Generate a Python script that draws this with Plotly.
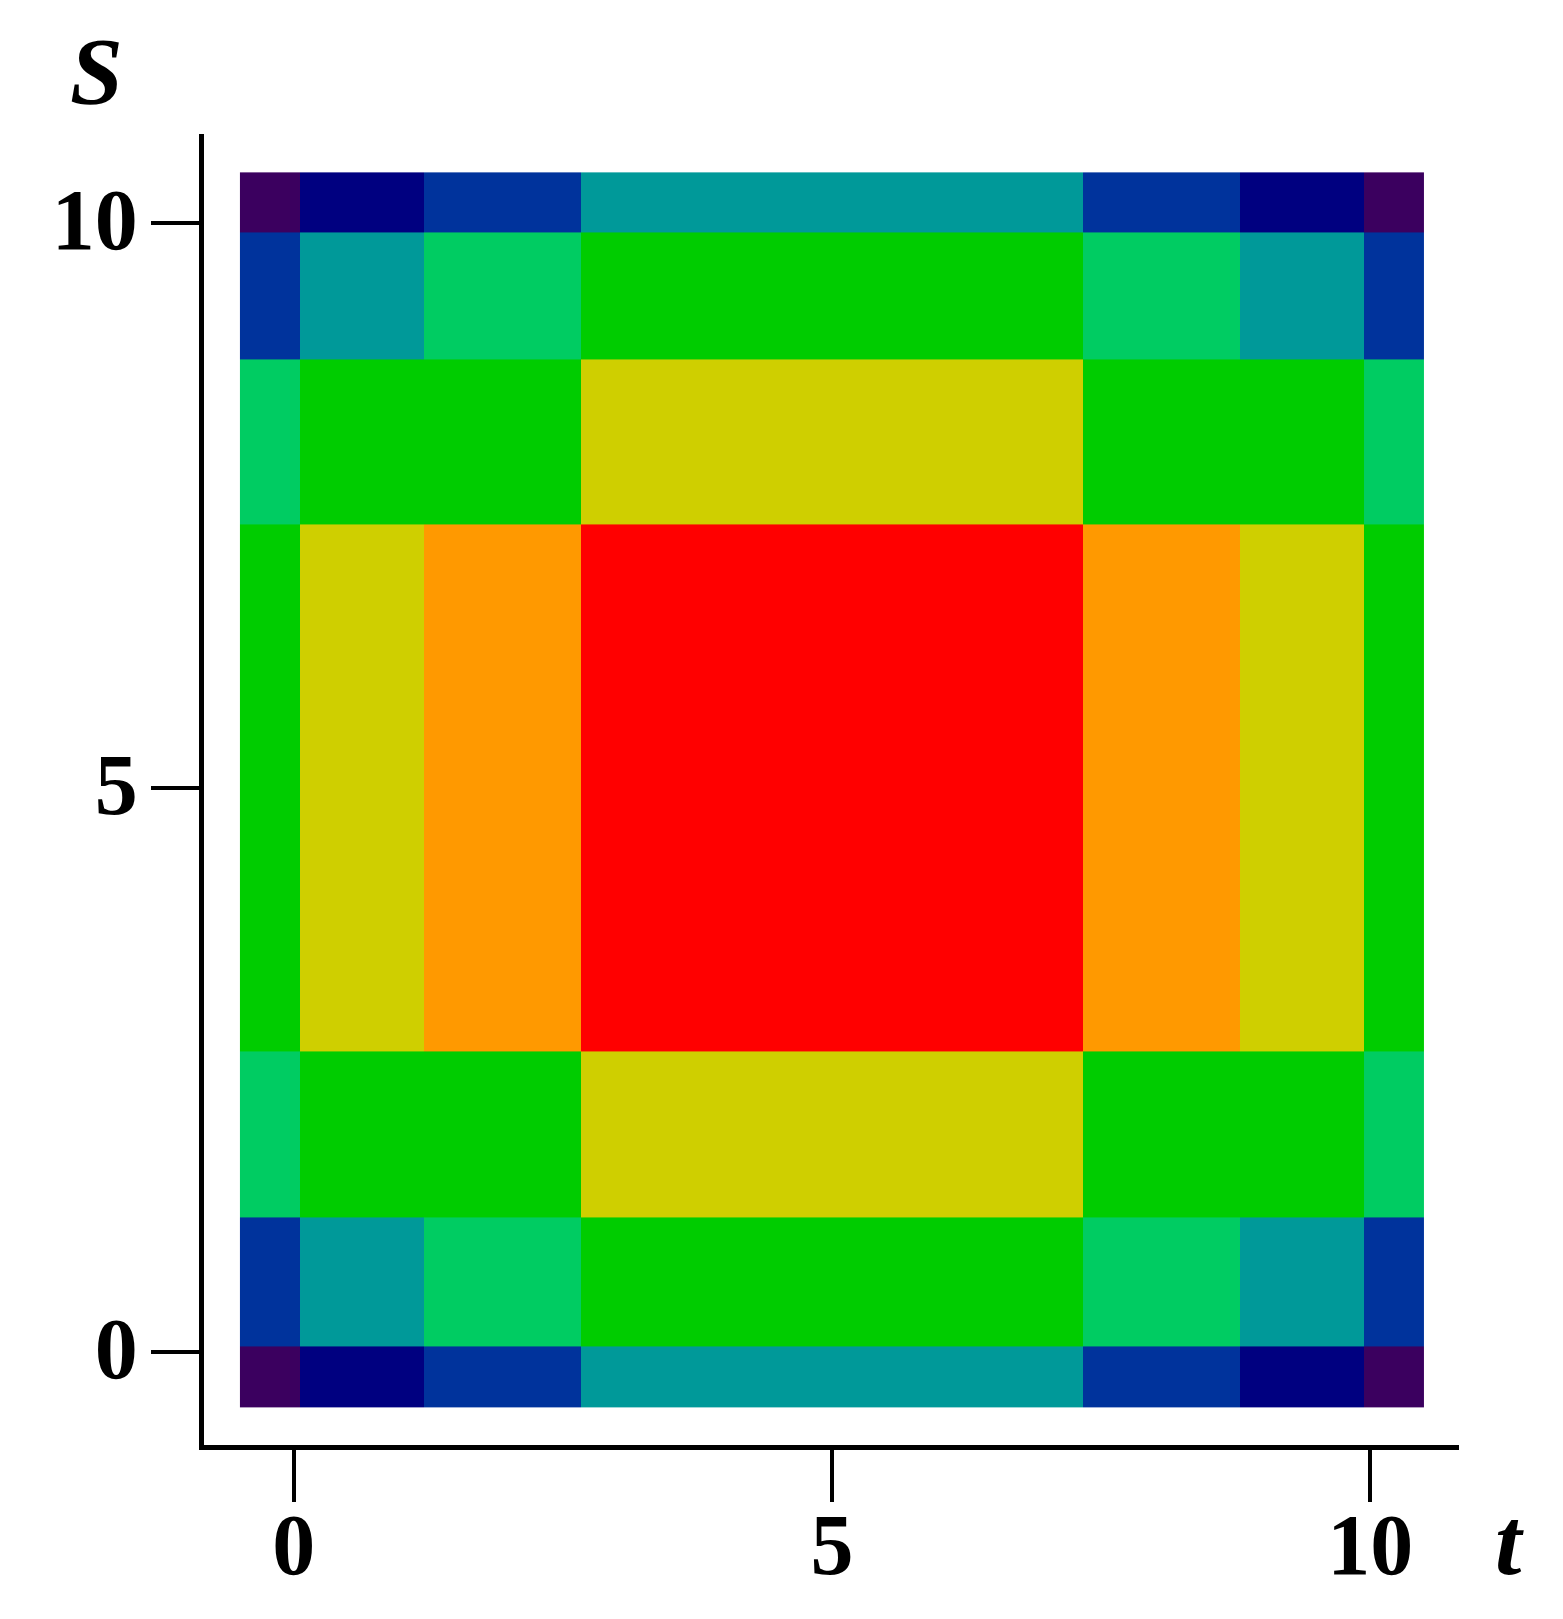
import plotly.graph_objects as go

# Cell edges along t (x) and S (y)
t_edges = [-0.5, 0.06, 1.21, 2.67, 7.33, 8.79, 9.94, 10.5]
s_edges = [-0.49, 0.05, 1.19, 2.66, 7.33, 8.79, 9.92, 10.45]

# Level index of each cell (rows from bottom S to top S)
levels = [
    [0, 1, 2, 3, 2, 1, 0],
    [2, 3, 4, 5, 4, 3, 2],
    [4, 5, 5, 6, 5, 5, 4],
    [5, 6, 7, 8, 7, 6, 5],
    [4, 5, 5, 6, 5, 5, 4],
    [2, 3, 4, 5, 4, 3, 2],
    [0, 1, 2, 3, 2, 1, 0],
]

# Colour of each level
palette = ["#3b005f", "#000080", "#00339c", "#009999", "#00cc62",
           "#00cc00", "#cfcf00", "#ff9900", "#ff0000"]

tick_vals = [0, 5, 10]
tick_text = ["0", "5", "10"]

n = len(palette) - 1
colorscale = [[i / n, c] for i, c in enumerate(palette)]

fig = go.Figure(go.Heatmap(
    x=t_edges, y=s_edges, z=levels,
    zmin=0, zmax=n, colorscale=colorscale,
    showscale=False, hoverinfo="skip",
))

tick_font = dict(family="Liberation Serif", size=86, color="black", weight="bold")

fig.update_layout(
    width=1563, height=1619, autosize=False,
    margin=dict(l=196, r=112, t=126, b=182, autoexpand=False),
    paper_bgcolor="white", plot_bgcolor="white",
    showlegend=False,
    xaxis=dict(range=[-0.834, 10.825], showgrid=False, zeroline=False,
               automargin=False,
               showline=True, linecolor="black", linewidth=5,
               ticks="outside", ticklen=52, tickwidth=4, tickcolor="black",
               tickvals=tick_vals, ticktext=tick_text, tickfont=tick_font,
               ticklabelstandoff=-31),
    yaxis=dict(range=[-0.824, 10.79], showgrid=False, zeroline=False,
               automargin=False,
               showline=True, linecolor="black", linewidth=5,
               ticks="outside", ticklen=48, tickwidth=4, tickcolor="black",
               tickvals=tick_vals, ticktext=tick_text, tickfont=tick_font,
               ticklabelshift=-4, ticklabelstandoff=-4),
    annotations=[
        dict(text="<b><i>S</i></b>", xref="paper", yref="paper",
             x=-0.0855, y=1.047, xanchor="center", yanchor="middle",
             showarrow=False,
             font=dict(family="Liberation Serif", size=95, color="black")),
        dict(text="<b><i>t</i></b>", xref="paper", yref="paper",
             x=1.04, y=-0.074, xanchor="center", yanchor="middle",
             showarrow=False,
             font=dict(family="Liberation Serif", size=95, color="black")),
    ],
)

fig.write_html("out.html")
